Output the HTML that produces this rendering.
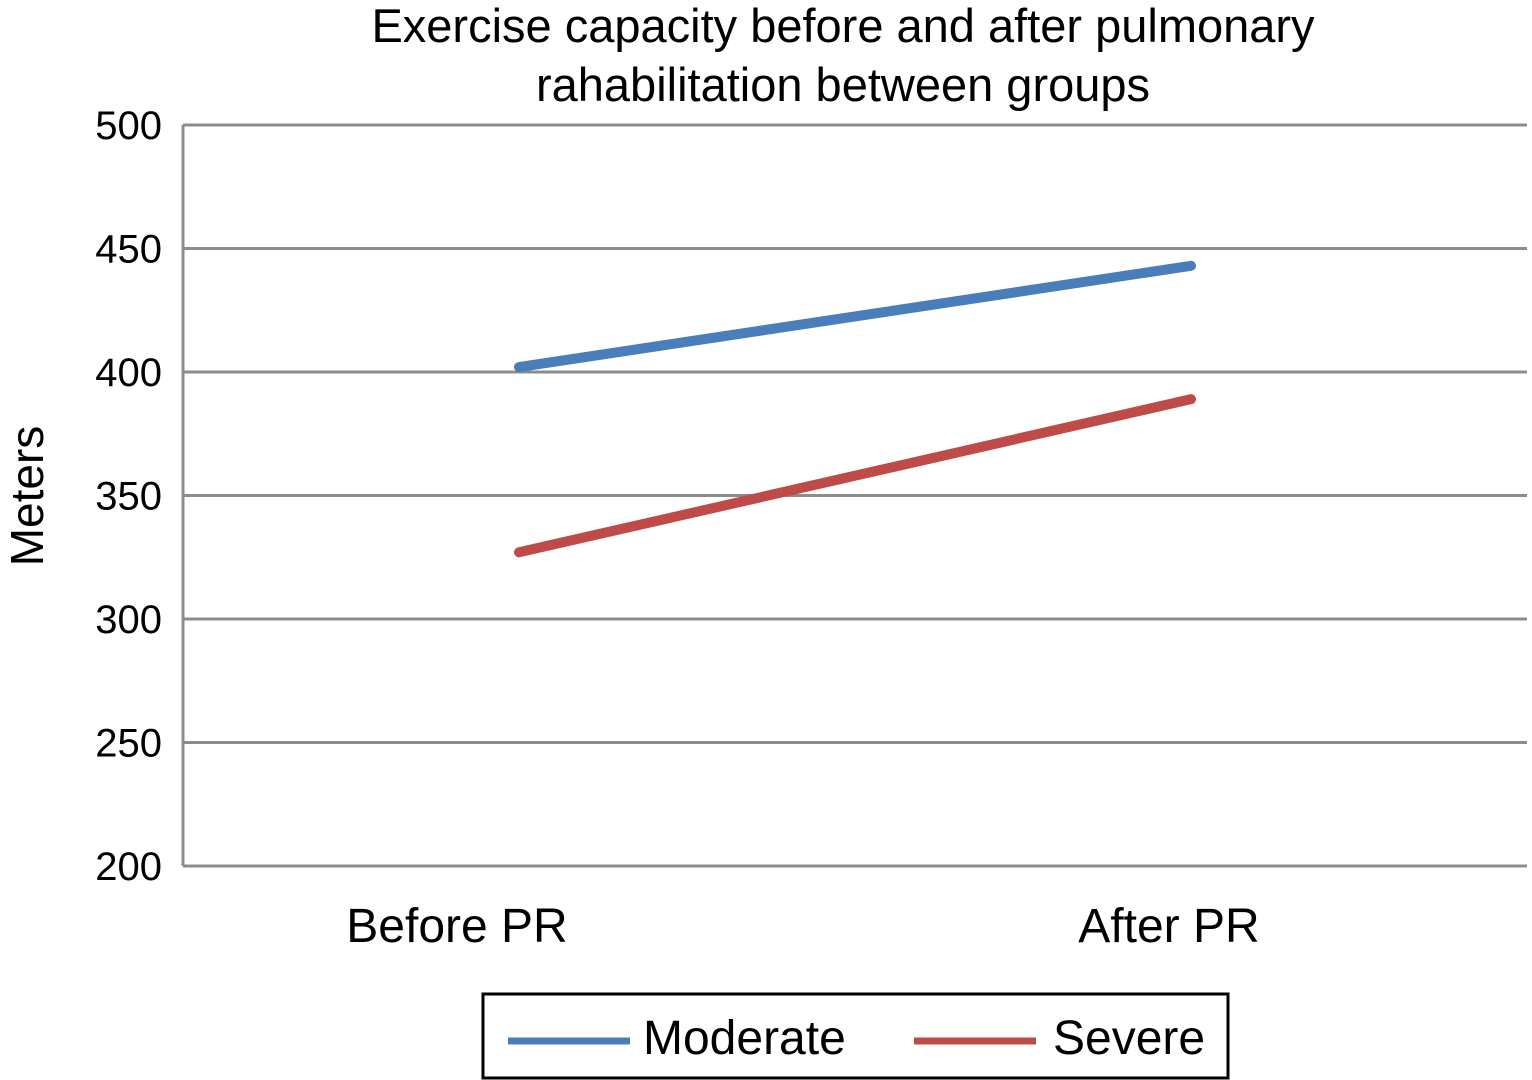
<!DOCTYPE html>
<html><head><meta charset="utf-8"><style>
body{margin:0;background:#fff;}
svg{display:block;font-family:"Liberation Sans",Arial,sans-serif;}
</style></head><body>
<svg id="chart" width="1532" height="1080" viewBox="0 0 1532 1080" xmlns="http://www.w3.org/2000/svg">
<text x="843" y="42" font-size="47" text-anchor="middle" fill="#000">Exercise capacity before and after pulmonary</text>
<text x="843" y="101" font-size="47" text-anchor="middle" fill="#000">rahabilitation between groups</text>
<text transform="translate(43,496) rotate(-90)" font-size="46" text-anchor="middle" fill="#000">Meters</text>
<g id="grid"></g><g id="series"></g>
<g>
<rect x="483" y="994" width="745" height="84" fill="#fff" stroke="#000" stroke-width="3"/>
<line x1="508" y1="1041" x2="630" y2="1041" stroke="#4a7ebb" stroke-width="7"/>
<text x="643" y="1054" font-size="48" fill="#000">Moderate</text>
<line x1="914" y1="1041" x2="1036" y2="1041" stroke="#be4b48" stroke-width="7"/>
<text x="1053" y="1054" font-size="48" fill="#000">Severe</text>
</g>
</svg>
<script>
const categories=["Before PR","After PR"];
const moderate=[402,443];
const severe=[327,389];
const yTicks=[200,250,300,350,400,450,500];
const NS="http://www.w3.org/2000/svg";
const L=183,R=1527,T=125,B=866;
function y(v){return B-(v-200)/300*(B-T);}
function x(i){return L+(R-L)/categories.length*(i+0.5);}
function mk(t,a,p){const e=document.createElementNS(NS,t);for(const k in a)e.setAttribute(k,a[k]);p.appendChild(e);return e;}
const g=document.getElementById('grid');
yTicks.forEach(v=>{
 const l=mk('line',{x1:L,x2:R,y1:y(v),y2:y(v),stroke:'#8c8c8c','stroke-width':3},g);
 
 
 const t=mk('text',{x:162,y:y(v)+14,'font-size':40,'text-anchor':'end',fill:'#000'},g);
 t.textContent=v;
 
 
});
const ax=mk('line',{x1:L,x2:L,y1:T,y2:B,stroke:'#8c8c8c','stroke-width':3},g);


categories.forEach((c,i)=>{
 const t=mk('text',{x:x(i)-62+(i?40:0),y:942,'font-size':48,'text-anchor':'middle',fill:'#000'},g);
 t.textContent=c;
 
 
});
const s=document.getElementById('series');
[[moderate,'#4a7ebb','moderate'],[severe,'#be4b48','severe']].forEach(([d,col,n])=>{
 const p=mk('polyline',{points:d.map((v,i)=>x(i)+','+y(v)).join(' '),fill:'none',stroke:col,'stroke-width':10,'stroke-linecap':'round'},s);
 
 
});
</script>
</body></html>
